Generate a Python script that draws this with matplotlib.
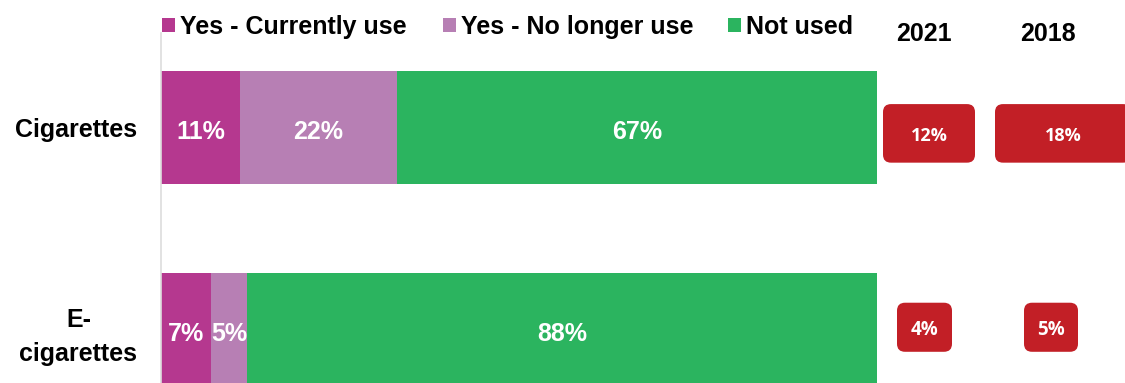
import matplotlib
matplotlib.use('Agg')
import matplotlib.pyplot as plt
from matplotlib.patches import FancyBboxPatch, Rectangle

plt.rcParams['font.family'] = ['Liberation Sans', 'DejaVu Sans']

# data
products = ['Cigarettes', 'E-\ncigarettes']
series = ['Yes - Currently use', 'Yes - No longer use', 'Not used']
currently = [11, 7]
no_longer = [22, 5]
not_used = [67, 88]
years = ['2021', '2018']
current_2021 = [12, 4]
current_2018 = [18, 5]

colors = ['#b5388f', '#b77fb4', '#2bb45f']
box_red = '#c21f26'

W, H = 1125, 383
fig = plt.figure(figsize=(W / 100, H / 100), dpi=100)


def fx(px):
    return px / W


def fy(py):
    return 1 - py / H


# main stacked bar axes (x from 161 to 877 px, y from 33 px to bottom)
ax = fig.add_axes([fx(161), 0, fx(877) - fx(161), fy(33)])
ypos = list(range(len(products)))
left = [0] * len(products)
for vals, col in zip([currently, no_longer, not_used], colors):
    bars = ax.barh(ypos, vals, left=left, height=0.56, color=col, edgecolor='none')
    for b, v in zip(bars, vals):
        ax.text(b.get_x() + b.get_width() / 2, b.get_y() + b.get_height() / 2 + 0.02,
                f'{v}%', ha='center', va='center', color='white',
                fontsize=18, fontweight='bold')
    left = [l + v for l, v in zip(left, vals)]

ax.set_xlim(0, 100)
ax.set_ylim(1.265, -0.468)
ax.set_yticks(ypos)
ax.set_yticklabels(products, fontsize=18, fontweight='bold')
for t in ax.get_yticklabels():
    t.set_multialignment('center')
    t.set_linespacing(1.55)
ax.tick_params(axis='y', length=0, pad=17)
ax.set_xticks([])
for s in ['top', 'right', 'bottom']:
    ax.spines[s].set_visible(False)
ax.spines['left'].set_color('#dddddd')
ax.spines['left'].set_linewidth(1.2)

# right-hand boxes (x in pixels from 877)
ax2 = fig.add_axes([fx(877), 0, 1 - fx(877), fy(33)])
ax2.set_xlim(0, 248)
ax2.set_ylim(1.265, -0.468)
ax2.axis('off')

# (center x, width, y offset, height) per row / column
box_style = {
    (0, 0): (52, 92, 0.029, 0.29),
    (0, 1): (186, 136, 0.029, 0.29),
    (1, 0): (47.5, 55, -0.011, 0.243),
    (1, 1): (174, 54, -0.011, 0.243),
}
for j, vals in enumerate([current_2021, current_2018]):
    for i, v in enumerate(vals):
        cx, w, dy, h = box_style[(i, j)]
        cy = ypos[i] + dy
        p = FancyBboxPatch((cx - w / 2, cy - h / 2), w, h,
                           boxstyle='round,pad=0,rounding_size=8',
                           mutation_aspect=1 / 202, facecolor=box_red,
                           edgecolor='none', clip_on=False)
        ax2.add_patch(p)
        ax2.text(cx, cy + 0.012, f'{v}%', ha='center', va='center', color='white',
                 fontsize=13.5 if i else 13, fontweight='bold',
                 family=['Open Sans', 'DejaVu Sans'])

# year headers
for yr, px in zip(years, [924, 1048]):
    fig.text(fx(px), fy(41), yr, ha='center', va='baseline',
             fontsize=18, fontweight='bold')

# legend
for name, col, sq_x in zip(series, colors, [162, 443, 728]):
    fig.patches.append(Rectangle((fx(sq_x), fy(31.5)), fx(12.5), fy(18) - fy(31.5),
                                 transform=fig.transFigure, facecolor=col,
                                 edgecolor='none'))
    fig.text(fx(sq_x + 18), fy(34), name, ha='left', va='baseline',
             fontsize=18, fontweight='bold')

fig.savefig('out.png', dpi=100)
